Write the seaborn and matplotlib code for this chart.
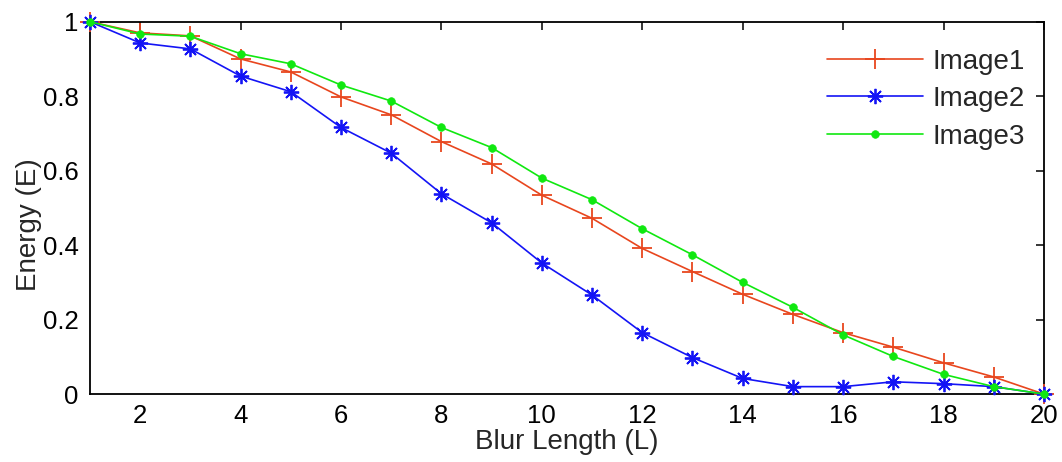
import matplotlib
matplotlib.use("Agg")
import matplotlib.pyplot as plt
import seaborn as sns
import pandas as pd

blur_length = list(range(1, 21))
image1 = [1.0, 0.97, 0.962, 0.90, 0.865, 0.798, 0.75, 0.678, 0.618, 0.534,
          0.472, 0.391, 0.329, 0.268, 0.214, 0.165, 0.126, 0.084, 0.046, 0.0]
image2 = [1.0, 0.943, 0.927, 0.854, 0.812, 0.716, 0.647, 0.538, 0.46, 0.352,
          0.266, 0.165, 0.098, 0.042, 0.02, 0.02, 0.033, 0.028, 0.02, 0.0]
image3 = [1.0, 0.967, 0.961, 0.914, 0.887, 0.83, 0.787, 0.716, 0.662, 0.58,
          0.522, 0.444, 0.374, 0.30, 0.233, 0.159, 0.101, 0.053, 0.02, 0.0]
series_names = ["Image1", "Image2", "Image3"]
x_ticks = [2, 4, 6, 8, 10, 12, 14, 16, 18, 20]
y_ticks = [0, 0.2, 0.4, 0.6, 0.8, 1]
y_tick_labels = ["0", "0.2", "0.4", "0.6", "0.8", "1"]

sns.set_theme(style="white")
plt.rcParams['font.family'] = ['Liberation Sans', 'DejaVu Sans']

df = pd.DataFrame({"L": blur_length * 3,
                   "E": image1 + image2 + image3,
                   "series": sum([[n] * len(blur_length) for n in series_names], [])})

fig = plt.figure(figsize=(10.62, 4.62), dpi=100)
ax = fig.add_axes([0.0847, 0.147, 0.8983, 0.806])

c1, c2, c3 = "#E8461E", "#1414F5", "#10E810"
styles = {
    "Image1": dict(color=c1, marker="+", markersize=14, markeredgewidth=1.3,
                   markeredgecolor=c1, markerfacecolor=c1),
    "Image2": dict(color=c2, marker=(8, 2, 0), markersize=11, markeredgewidth=1.3,
                   markeredgecolor=c2, markerfacecolor=c2),
    "Image3": dict(color=c3, marker="o", markersize=5.5, markeredgewidth=0.5,
                   markeredgecolor=c3, markerfacecolor=c3),
}
for name in series_names:
    sub = df[df["series"] == name]
    sns.lineplot(data=sub, x="L", y="E", ax=ax, label=name, linewidth=1.2,
                 clip_on=False, zorder=3, **styles[name])

ax.set_xlim(1, 20)
ax.set_ylim(0, 1)
ax.set_xticks(x_ticks)
ax.set_yticks(y_ticks)
ax.set_yticklabels(y_tick_labels)
ax.tick_params(direction="in", length=6, width=1.1, top=True, right=True,
               labelsize=18.5, colors="black")
ax.tick_params(axis="x", pad=7)
ax.tick_params(axis="y", pad=8)
for s in ax.spines.values():
    s.set_color("black")
    s.set_linewidth(1.3)
ax.set_xlabel("Blur Length (L)", fontsize=20, labelpad=1)
ax.set_ylabel("Energy (E)", fontsize=20)
ax.yaxis.set_label_coords(-0.05, 0.455)

leg = ax.legend(loc="upper left", bbox_to_anchor=(0.7725, 0.928), frameon=False,
                fontsize=20, handlelength=3.45, labelspacing=0.42, handletextpad=0.34,
                borderpad=0, borderaxespad=0)

fig.savefig("out.png", dpi=100)
